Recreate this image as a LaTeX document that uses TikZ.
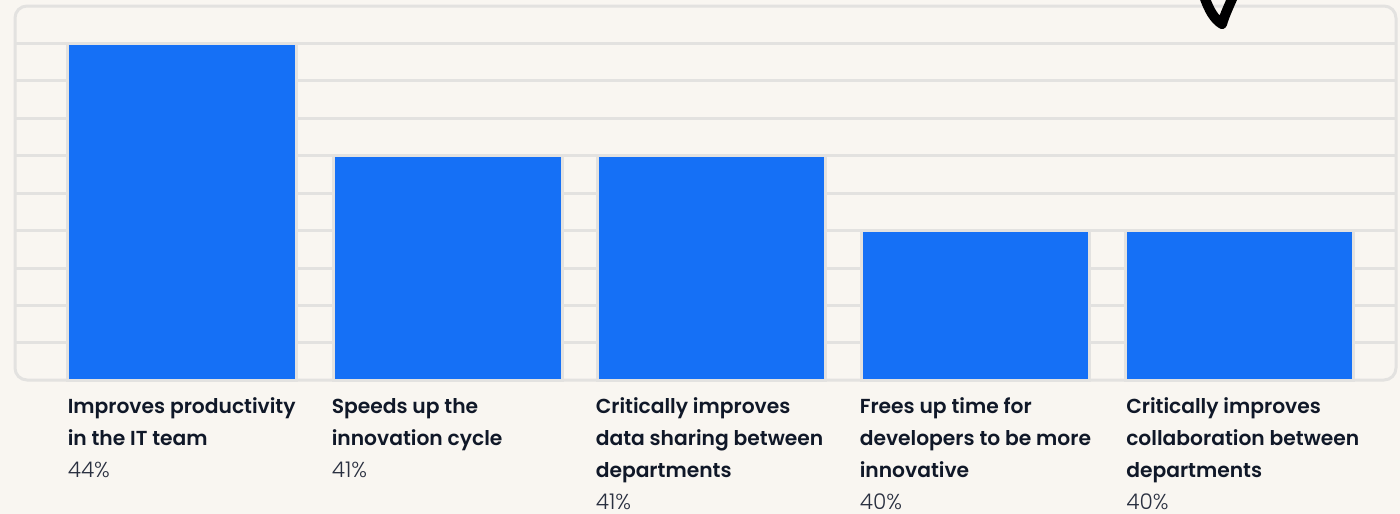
\documentclass[tikz,border=0pt]{standalone}
\usepackage{fontspec}
\setmainfont{Poppins}
\newfontfamily\catfont{Poppins SemiBold}
\newfontfamily\pctfont{Poppins Light}
\definecolor{bg}{HTML}{F9F6F1}
\definecolor{gridc}{HTML}{E3E2E0}
\definecolor{barc}{HTML}{1570F6}
\definecolor{ink}{HTML}{101828}
\definecolor{ink2}{HTML}{2A3040}
\tikzset{
 gridline/.style={draw=gridc,line width=2.25pt},
 barbox/.style={fill=barc,draw=gridc,line width=2.25pt},
 cat/.style={anchor=base west,inner sep=0pt,font=\fontsize{15.2}{15.2}\selectfont\catfont,text=ink},
 pct/.style={anchor=base west,inner sep=0pt,font=\fontsize{16.2}{16.2}\selectfont\pctfont,text=ink2}
}
\begin{document}
\begin{tikzpicture}[x=0.75pt,y=-0.75pt]
\path[use as bounding box,fill=bg] (0,0) rectangle (1400,514);
\foreach \y in {43,80.5,118,155.5,193,230.5,268,305,342.5}
  \draw[gridline] (15,\y) -- (1396,\y);
\draw[gridline,rounded corners=9pt,fill=none] (15,6) rectangle (1396,380);
\draw[barbox] (67,43.5) rectangle (296,380);
\draw[barbox] (333,155.5) rectangle (562,380);
\draw[barbox] (597,155.5) rectangle (825,380);
\draw[barbox] (861,230.5) rectangle (1089,380);
\draw[barbox] (1125,230.5) rectangle (1353,380);
\begin{scope}
\clip (0,0) rectangle (1400,514);
\draw[black,line width=7.5pt,line cap=round,line join=round] (1204,-4) .. controls (1209,10) and (1214,19) .. (1222,24) .. controls (1225,14) and (1229,6) .. (1235,-8);
\end{scope}
\node[cat] (a1) at (67.5,413.5) {Improves productivity};
\node[cat] (a2) at (67.5,445.5) {in the IT team};
\node[pct] (a3) at (67.5,477.5) {44\%};
\node[cat] (b1) at (331.5,413.5) {Speeds up the};
\node[cat] (b2) at (331.5,445.5) {innovation cycle};
\node[pct] (b3) at (331.5,477.5) {41\%};
\node[cat] (c1) at (595.5,413.5) {Critically improves};
\node[cat] (c2) at (595.5,445.5) {data sharing between};
\node[cat] (c3) at (595.5,477.5) {departments};
\node[pct] (c4) at (595.5,509.5) {41\%};
\node[cat] (d1) at (859.5,413.5) {Frees up time for};
\node[cat] (d2) at (859.5,445.5) {developers to be more};
\node[cat] (d3) at (859.5,477.5) {innovative};
\node[pct] (d4) at (859.5,509.5) {40\%};
\node[cat] (e1) at (1126,413.5) {Critically improves};
\node[cat] (e2) at (1126,445.5) {collaboration between};
\node[cat] (e3) at (1126,477.5) {departments};
\node[pct] (e4) at (1126,509.5) {40\%};
\end{tikzpicture}
\end{document}
